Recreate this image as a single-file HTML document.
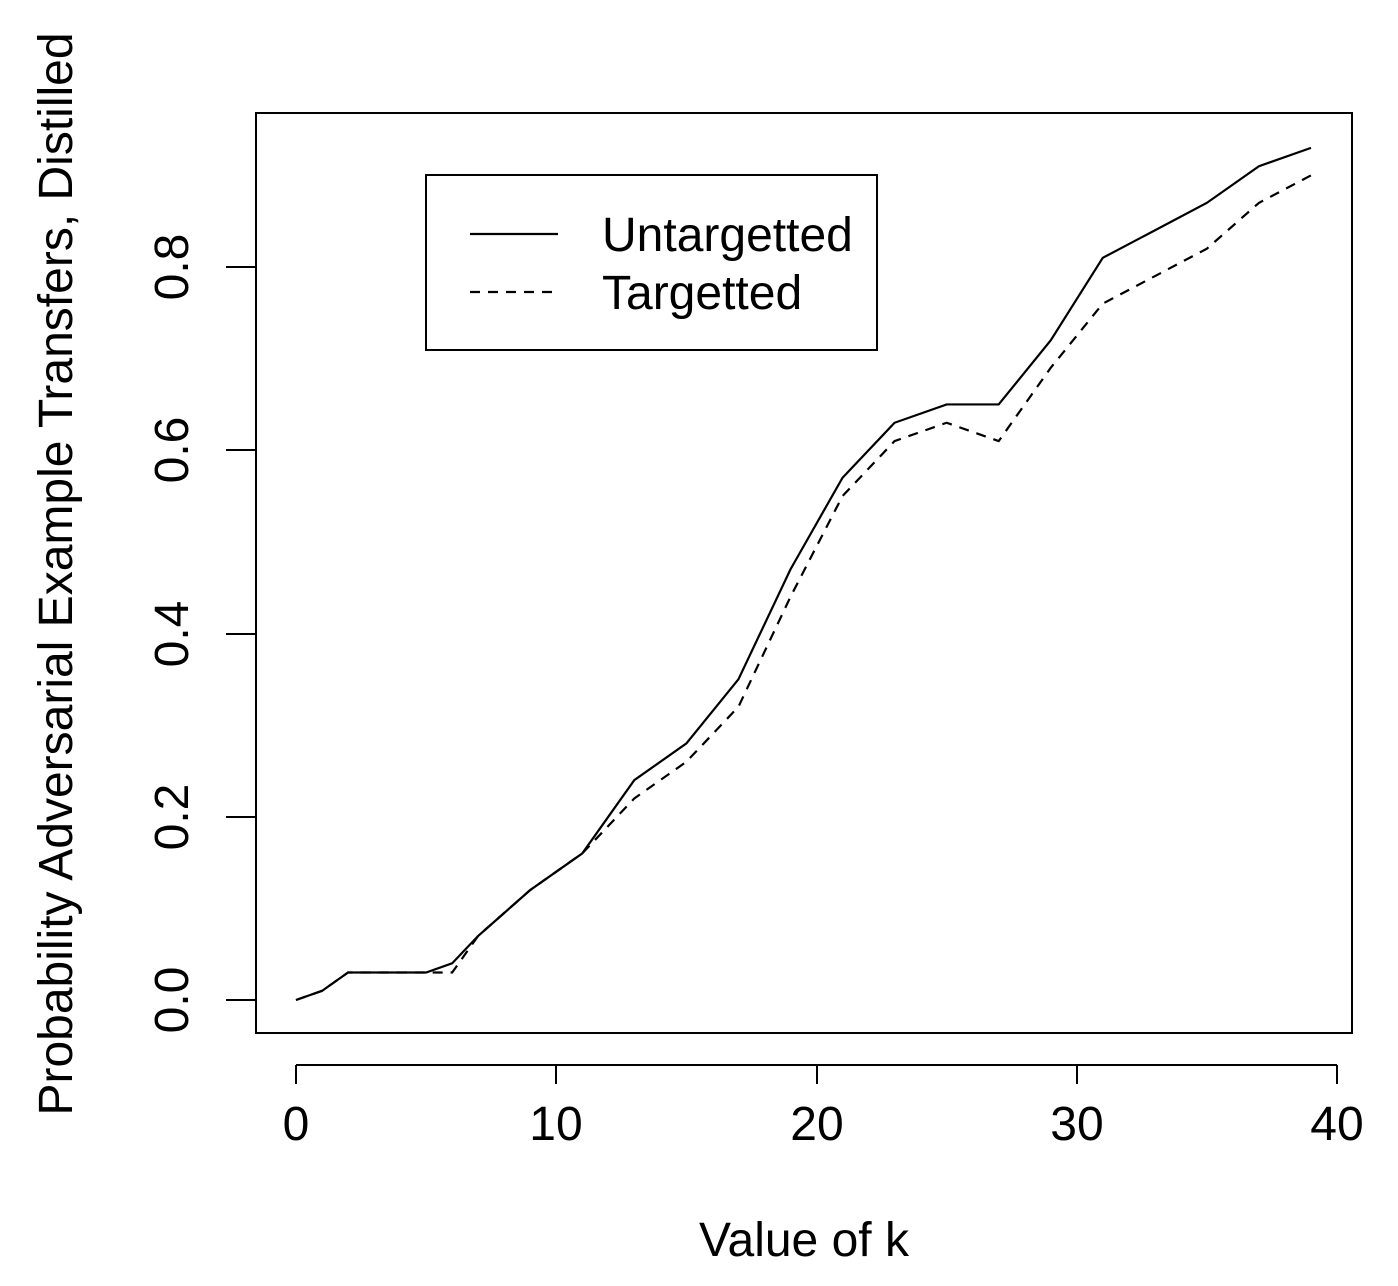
<!DOCTYPE html>
<html><head><meta charset="utf-8"><style>
html,body{margin:0;padding:0;background:#fff;}
svg{display:block;font-family:"Liberation Sans",sans-serif;}
</style></head><body>
<svg width="1398" height="1286" viewBox="0 0 1398 1286" xmlns="http://www.w3.org/2000/svg">
<rect x="0" y="0" width="1398" height="1286" fill="#fff"/>
<rect x="256" y="113" width="1096" height="920" fill="none" stroke="#000" stroke-width="2"/>
<g stroke="#000" stroke-width="2">
<line x1="296" y1="1065" x2="1337" y2="1065"/>
<line x1="296" y1="1065" x2="296" y2="1084"/>
<line x1="556" y1="1065" x2="556" y2="1084"/>
<line x1="817" y1="1065" x2="817" y2="1084"/>
<line x1="1077" y1="1065" x2="1077" y2="1084"/>
<line x1="1337" y1="1065" x2="1337" y2="1084"/>
<line x1="226" y1="1000" x2="256" y2="1000"/>
<line x1="226" y1="817" x2="256" y2="817"/>
<line x1="226" y1="634" x2="256" y2="634"/>
<line x1="226" y1="450" x2="256" y2="450"/>
<line x1="226" y1="267" x2="256" y2="267"/>
</g>
<g font-size="48" text-anchor="middle" fill="#000">
<text x="296" y="1140">0</text>
<text x="556" y="1140">10</text>
<text x="817" y="1140">20</text>
<text x="1077" y="1140">30</text>
<text x="1337" y="1140">40</text>
<text transform="translate(188,1000) rotate(-90)">0.0</text>
<text transform="translate(188,817) rotate(-90)">0.2</text>
<text transform="translate(188,634) rotate(-90)">0.4</text>
<text transform="translate(188,450) rotate(-90)">0.6</text>
<text transform="translate(188,267) rotate(-90)">0.8</text>
<text x="804" y="1256">Value of k</text>
<text transform="translate(72,574) rotate(-90)">Probability Adversarial Example Transfers, Distilled</text>
</g>
<g transform="translate(296,1000) scale(26.025,-916.25)" fill="none" stroke="#000">
<polyline vector-effect="non-scaling-stroke" stroke-width="2.2" points="0,0 1,0.01 2,0.03 5,0.03 6,0.04 7,0.07 9,0.12 11,0.16 13,0.24 15,0.28 17,0.35 19,0.47 21,0.57 23,0.63 25,0.65 27,0.65 29,0.72 31,0.81 33,0.84 35,0.87 37,0.91 39,0.93"/>
<polyline vector-effect="non-scaling-stroke" stroke-width="2.2" stroke-dasharray="10,8" points="0,0 1,0.01 2,0.03 6,0.03 7,0.07 9,0.12 11,0.16 13,0.22 15,0.26 17,0.32 19,0.44 21,0.55 23,0.61 25,0.63 27,0.61 29,0.69 31,0.76 33,0.79 35,0.82 37,0.87 39,0.90"/>
</g>
<rect x="426" y="175" width="451" height="175" fill="none" stroke="#000" stroke-width="2"/>
<line x1="470" y1="234" x2="558" y2="234" stroke="#000" stroke-width="2.2"/>
<line x1="470" y1="292" x2="558" y2="292" stroke="#000" stroke-width="2.2" stroke-dasharray="10,8"/>
<g font-size="48" fill="#000">
<text x="602" y="251">Untargetted</text>
<text x="602" y="309">Targetted</text>
</g>
</svg>
</body></html>
